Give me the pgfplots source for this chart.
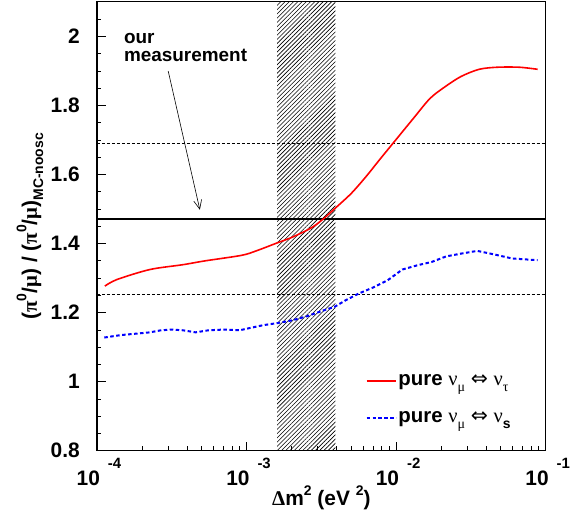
\documentclass[border=0pt]{standalone}
\usepackage{fontspec}
\setmainfont{Liberation Sans}
\newfontfamily\gr{Liberation Serif}
\newfontfamily\dv{DejaVu Sans}
\usepackage{pgfplots}
\pgfplotsset{compat=1.18}
\usetikzlibrary{patterns,patterns.meta,arrows.meta}
\newcommand\xl[1]{\makebox[0pt][r]{10}\makebox[0pt][l]{\hspace{8bp}\raisebox{17bp}{\fontsize{15}{15}\selectfont #1}}}
\newcommand\subs[1]{\raisebox{-0.3em}{\fontsize{14}{14}\selectfont #1}}
\newcommand\sups[1]{\raisebox{0.5em}{\fontsize{14}{14}\selectfont #1}}

\pgfplotstableread{
x y
1.13e-4 1.277
1.36e-4 1.296
2.26e-4 1.325
3.76e-4 1.339
5.26e-4 1.350
9.24e-4 1.366
1.16e-3 1.379
1.60e-3 1.402
2.03e-3 1.419
2.69e-3 1.445
3.19e-3 1.468
3.88e-3 1.501
5.00e-3 1.545
6.26e-3 1.593
7.85e-3 1.646
1.01e-2 1.704
1.30e-2 1.762
1.68e-2 1.820
2.10e-2 1.853
2.71e-2 1.884
3.59e-2 1.905
4.75e-2 1.911
6.67e-2 1.911
8.83e-2 1.905
}\tautab

\pgfplotstableread{
x y
1.12e-4 1.128
1.44e-4 1.135
2.26e-4 1.143
2.68e-4 1.149
3.17e-4 1.151
3.76e-4 1.149
4.57e-4 1.143
5.57e-4 1.149
6.98e-4 1.151
8.99e-4 1.149
1.09e-3 1.157
1.30e-3 1.164
1.62e-3 1.170
2.03e-3 1.178
2.55e-3 1.190
3.19e-3 1.205
3.88e-3 1.217
4.60e-3 1.236
5.60e-3 1.255
7.02e-3 1.273
8.79e-3 1.294
1.10e-2 1.325
1.38e-2 1.337
1.73e-2 1.347
2.16e-2 1.363
2.71e-2 1.371
3.49e-2 1.379
4.50e-2 1.369
5.96e-2 1.357
8.83e-2 1.352
}\stab

\begin{document}
\begin{tikzpicture}
\begin{axis}[
  scale only axis, width=449bp, height=449bp,
  xmode=log, xmin=1e-4, xmax=1e-1, ymin=0.8, ymax=2.1,
  axis line style={line width=1bp},
  tick align=inside, xtick pos=bottom, ytick pos=left,
  major tick length=9bp, minor tick length=4.5bp,
  every tick/.style={black, line width=0.8bp},
  xtick={1e-4,1e-3,1e-2,1e-1},
  minor xtick={2e-4,3e-4,4e-4,5e-4,6e-4,7e-4,8e-4,9e-4,2e-3,3e-3,4e-3,5e-3,6e-3,7e-3,8e-3,9e-3,2e-2,3e-2,4e-2,5e-2,6e-2,7e-2,8e-2,9e-2},
  xticklabels={\xl{-4},\xl{-3},\xl{-2},\xl{-1}},
  ytick={0.8,1,1.2,1.4,1.6,1.8,2},
  yticklabels={0.8,1,1.2,1.4,1.6,1.8,2},
  minor ytick={0.85,0.9,0.95,1.05,1.1,1.15,1.25,1.3,1.35,1.45,1.5,1.55,1.65,1.7,1.75,1.85,1.9,1.95,2.05},
  tick label style={font=\fontsize{21}{21}\selectfont\bfseries, inner sep=0pt},
  xticklabel style={anchor=north, yshift=-7bp, xshift=3bp},
  yticklabel style={anchor=east, xshift=-17bp},
  xlabel={\bfseries{\gr Δ}m\sups{2} (eV \sups{2})},
  xlabel style={at={(rel axis cs:0.5,0)}, anchor=base, yshift=-55bp, font=\fontsize{21}{21}\selectfont\bfseries, inner sep=0pt},
  ylabel={(\gr π\sups{\bfseries\rmfamily 0}\rmfamily/{\gr μ}) / ({\gr π}\sups{0}/{\gr μ})\subs{MC-noosc}},
  ylabel style={at={([xshift=-67bp]rel axis cs:0,0.5)}, rotate=0, anchor=center, font=\fontsize{21}{21}\selectfont\bfseries, inner sep=0pt},
  legend style={draw=none, fill=none, at={(0.598,0.172)}, anchor=north west, font=\fontsize{20.5}{20.5}\selectfont\bfseries, row sep=22bp, inner sep=0pt, nodes={inner sep=1bp}},
  legend cell align=left,
  legend image code/.code={\draw[#1] (0bp,0bp) -- (30bp,0bp);},
  /tikz/every even column/.style={column sep=13bp},
]
\addplot[forget plot, draw=none, pattern={Lines[angle=45,distance=3bp,line width=0.6bp]}] coordinates {(1.6e-3,0.8) (1.6e-3,2.1) (3.93e-3,2.1) (3.93e-3,0.8)} \closedcycle;
\addplot[forget plot, black, line width=0.8bp, dash pattern=on 3bp off 2bp] coordinates {(1e-4,1.69) (1e-1,1.69)};
\addplot[forget plot, black, line width=0.8bp, dash pattern=on 3bp off 2bp] coordinates {(1e-4,1.252) (1e-1,1.252)};
\addplot[forget plot, black, line width=2bp] coordinates {(1e-4,1.472) (1e-1,1.472)};
\addplot[red, line width=1.6bp, smooth, tension=0.5] table {\tautab};
\addlegendentry{pure {\gr\mdseries ν}\subs{\gr\mdseries μ} {\dv\mdseries ⇔} {\gr\mdseries ν}\subs{\gr\mdseries τ}}
\addplot[blue, line width=2bp, dash pattern=on 3.5bp off 2.5bp] table {\stab};
\addlegendentry{pure {\gr\mdseries ν}\subs{\gr\mdseries μ} {\dv\mdseries ⇔} {\gr\mdseries ν}\subs{s}}
\draw[-{Straight Barb[length=9bp,width=8bp]}, line width=0.6bp] (axis cs:2.995e-4,1.900) -- (axis cs:4.876e-4,1.498);
\node[anchor=base west, font=\fontsize{19}{19}\selectfont\bfseries, inner sep=0pt] at (rel axis cs:0.060,0.9080) {our};
\node[anchor=base west, font=\fontsize{19}{19}\selectfont\bfseries, inner sep=0pt] at (rel axis cs:0.060,0.8670) {measurement};
\draw[line width=2bp] (rel axis cs:0,1) -- (rel axis cs:0,0) -- (rel axis cs:1,0);
\coordinate (ll) at (rel axis cs:0,0);
\coordinate (ur) at (rel axis cs:1,1);
\end{axis}
\pgfresetboundingbox
\path ([shift={(-97bp,-65bp)}]ll) rectangle ([shift={(28.3bp,2bp)}]ur);
\end{tikzpicture}
\end{document}
